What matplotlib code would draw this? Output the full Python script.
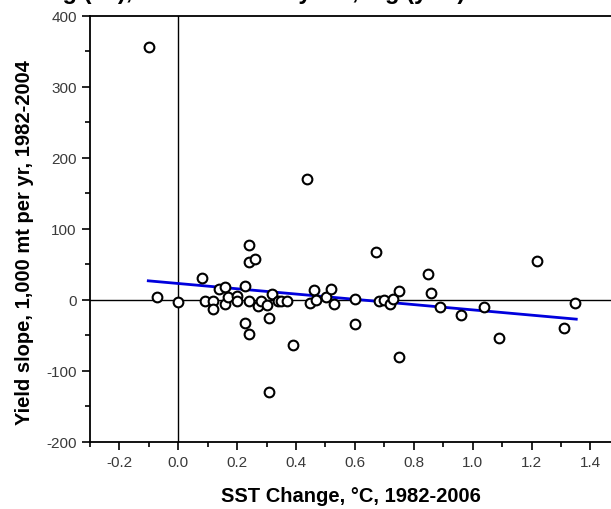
import numpy as np
import matplotlib
matplotlib.use("Agg")
import matplotlib.pyplot as plt
from matplotlib.ticker import MultipleLocator

# === DATA ===
sst_change = [-0.10, -0.072, 0.00, 0.08, 0.089, 0.119, 0.119, 0.137, 0.158, 0.158,
              0.169, 0.199, 0.199, 0.228, 0.228, 0.240, 0.240, 0.240, 0.240, 0.259,
              0.270, 0.280, 0.300, 0.309, 0.309, 0.319, 0.338, 0.350, 0.370, 0.388,
              0.438, 0.446, 0.460, 0.469, 0.503, 0.520, 0.530, 0.600, 0.600, 0.670,
              0.681, 0.700, 0.719, 0.730, 0.750, 0.750, 0.848, 0.860, 0.889, 0.960,
              1.039, 1.090, 1.218, 1.310, 1.349]
yield_slope = [357, 4, -3, 31, -1, -2, -12, 15, 18, -5,
               4, 6, -1, 20, -33, -48, -1, 77, 54, 58,
               -9, -2, -7, -25, -129, 9, -1, -1, -1, -64,
               170, -4, 14, 0, 4, 15, -6, 1, -34, 67,
               -2, 0, -6, 2, 12, -81, 36, 10, -10, -21,
               -10, -54, 55, -40, -4]

# regression line end points
fit_x = [-0.102, 1.352]
fit_y = [27, -27]

plt.rcParams['font.family'] = ['Liberation Sans', 'DejaVu Sans']
plt.rcParams['axes.unicode_minus'] = False

fig = plt.figure(figsize=(6.11, 5.10), dpi=100)
ax = fig.add_axes([0.1473, 0.1314, 0.8527, 0.8353])

ax.axhline(0, color='black', lw=1.0, zorder=1)
ax.axvline(0, color='black', lw=1.0, zorder=1)
ax.plot(fit_x, fit_y, color='#0000dd', lw=2.0, zorder=2)
ax.plot(sst_change, yield_slope, 'o', ms=7, mfc='white', mec='black', mew=1.5, zorder=3)

ax.set_xlim(-0.3, 1.47)
ax.set_ylim(-200, 400)
ax.xaxis.set_minor_locator(MultipleLocator(0.1))
ax.yaxis.set_major_locator(MultipleLocator(100))
ax.yaxis.set_minor_locator(MultipleLocator(50))
ax.set_xticks(np.arange(-0.2, 1.41, 0.2))
ax.set_xticklabels(['-0.2', '0.0', '0.2', '0.4', '0.6', '0.8', '1.0', '1.2', '1.4'])

ax.tick_params(which='major', direction='out', length=6, width=1.2, labelsize=11, labelcolor='#3a3a3a')
ax.tick_params(which='minor', direction='out', length=3.5, width=1.2)
for side in ['left', 'bottom', 'top']:
    ax.spines[side].set_linewidth(1.3)
ax.spines['right'].set_visible(False)

ax.set_xlabel('SST Change, °C, 1982-2006', fontsize=14.5, fontweight='bold', labelpad=12)
ax.set_ylabel('Yield slope, 1,000 mt per yr, 1982-2004', fontsize=14.5, fontweight='bold')
ax.yaxis.set_label_coords(-0.108, 0.47)

# title is cut off at the top of the original image, only descenders remain
fig.text(-0.12, 1 + 1 / 510, 'SST warming (°C), and the mean yield, lag (yr-1)',
         fontsize=17, fontweight='bold', va='baseline', ha='left')

fig.savefig('out.png', dpi=100)
